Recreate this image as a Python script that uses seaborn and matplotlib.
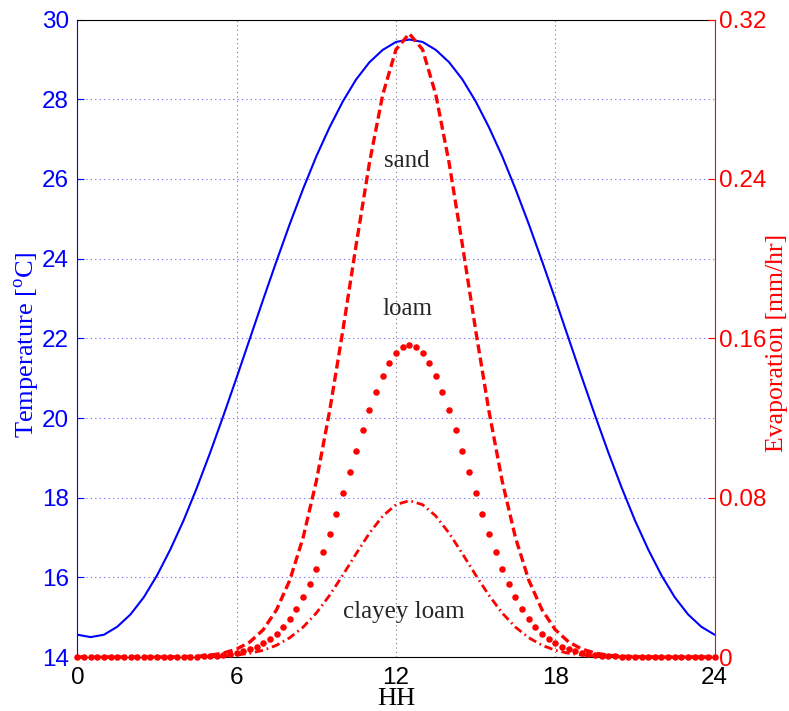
import numpy as np
import matplotlib
matplotlib.use("Agg")
import matplotlib.pyplot as plt
import seaborn as sns

# hour of day, half-hourly and quarter-hourly samples
hours_half = np.arange(0, 24.01, 0.5)
hours_quarter = np.arange(0, 24.01, 0.25)

# air temperature [oC], half-hourly
temperature = [14.56, 14.50, 14.56, 14.76, 15.07, 15.50, 16.05, 16.70, 17.43, 18.25,
               19.13, 20.06, 21.02, 22.00, 22.98, 23.94, 24.87, 25.75, 26.57, 27.30,
               27.95, 28.50, 28.93, 29.24, 29.44, 29.50, 29.44, 29.24, 28.93, 28.50,
               27.95, 27.30, 26.57, 25.75, 24.87, 23.94, 22.98, 22.00, 21.02, 20.06,
               19.13, 18.25, 17.43, 16.70, 16.05, 15.50, 15.07, 14.76, 14.56]

# evaporation [mm/hr], sand, half-hourly
sand = [0, 0, 0, 0, 0, 0, 0, 0,
        0.0002, 0.0004, 0.0009, 0.0020, 0.0040, 0.0076, 0.0137, 0.0237, 0.0386,
        0.0599, 0.0883, 0.1235, 0.1641, 0.2070, 0.2481, 0.2823, 0.3050,
        0.313,
        0.3050, 0.2823, 0.2481, 0.2070, 0.1641, 0.1235, 0.0883, 0.0599,
        0.0386, 0.0237, 0.0137, 0.0076, 0.0040, 0.0020, 0.0009, 0.0004, 0.0002,
        0, 0, 0, 0, 0, 0]

# evaporation [mm/hr], clayey loam, half-hourly
clayey_loam = [0, 0, 0, 0, 0, 0, 0, 0, 0,
               0.0001, 0.0002, 0.0005, 0.0010, 0.0019, 0.0034, 0.0059, 0.0097,
               0.0150, 0.0221, 0.0310, 0.0412, 0.0519, 0.0622, 0.0708, 0.0765,
               0.0785,
               0.0765, 0.0708, 0.0622, 0.0519, 0.0412, 0.0310, 0.0221, 0.0150,
               0.0097, 0.0059, 0.0034, 0.0019, 0.0010, 0.0005, 0.0002, 0.0001,
               0, 0, 0, 0, 0, 0, 0]

# evaporation [mm/hr], loam, quarter-hourly
loam = [0] * 16 + [
    0.0001, 0.0001, 0.0002, 0.0003, 0.0005, 0.0007, 0.0010, 0.0014,
    0.0020, 0.0028, 0.0038, 0.0051, 0.0069, 0.0091, 0.0118, 0.0152,
    0.0193, 0.0242, 0.0300, 0.0366, 0.0441, 0.0526, 0.0618, 0.0716,
    0.0821, 0.0928, 0.1035, 0.1141, 0.1240, 0.1332, 0.1411, 0.1477,
    0.1525, 0.1555,
    0.1565,
    0.1555, 0.1525, 0.1477, 0.1411, 0.1332, 0.1240, 0.1141, 0.1035,
    0.0928, 0.0821, 0.0716, 0.0618, 0.0526, 0.0441, 0.0366, 0.0300,
    0.0242, 0.0193, 0.0152, 0.0118, 0.0091, 0.0069, 0.0051, 0.0038,
    0.0028, 0.0020, 0.0014, 0.0010, 0.0007, 0.0005, 0.0003, 0.0002,
    0.0001, 0.0001] + [0] * 12

x_ticks = [0, 6, 12, 18, 24]
temp_ticks = [14, 16, 18, 20, 22, 24, 26, 28, 30]
evap_ticks = [0, 0.08, 0.16, 0.24, 0.32]
evap_labels = ["0", "0.08", "0.16", "0.24", "0.32"]

sns.set_style("white")
plt.rcParams["font.family"] = ["Liberation Sans", "DejaVu Sans"]
plt.rcParams["mathtext.fontset"] = "custom"
plt.rcParams["mathtext.rm"] = "Liberation Serif"

fig = plt.figure(figsize=(7.89, 7.11), dpi=100)
ax = fig.add_axes([0.0981, 0.0759, 0.8076, 0.8965])

# Temperature
sns.lineplot(x=hours_half, y=temperature, ax=ax, color="blue", linewidth=1.5)
ax.set_xlim(0, 24)
ax.set_ylim(14, 30)
ax.set_xticks(x_ticks)
ax.set_yticks(temp_ticks)
ax.tick_params(axis="x", direction="in", length=5, width=0.8, colors="black",
               labelsize=17.5, pad=7)
ax.tick_params(axis="y", direction="in", length=5, width=0.8, colors="blue",
               labelsize=17.5, pad=6)
ax.grid(axis="y", color="#6666ff", linestyle=(0, (1, 3)), linewidth=0.8)
ax.grid(axis="x", color="#777777", linestyle=(0, (1, 3)), linewidth=0.8)
for side in ["top", "bottom"]:
    ax.spines[side].set_color("black")
    ax.spines[side].set_linewidth(0.8)
ax.spines["left"].set_color("blue")
ax.spines["left"].set_linewidth(0.8)
ax.spines["right"].set_visible(False)

serif = ["Liberation Serif", "DejaVu Serif"]
ax.set_xlabel("HH", family=serif, fontsize=19, color="black")
ax.xaxis.set_label_coords(0.5, -0.049)
ax.set_ylabel(r"Temperature [$^{\mathrm{o}}$C]", family=serif, fontsize=19,
              color="blue")
ax.yaxis.set_label_coords(-0.055, 0.49)

# Evaporation (lines at zero are not clipped, as in the original)
ax2 = ax.twinx()
sns.lineplot(x=hours_half, y=sand, ax=ax2, color="red", linewidth=2.4,
             linestyle=(0, (2.7, 1.3)), clip_on=False)
sns.lineplot(x=hours_half, y=clayey_loam, ax=ax2, color="red", linewidth=2.0,
             linestyle=(0, (3.0, 1.4, 0.6, 1.4)), clip_on=False)
sns.scatterplot(x=hours_quarter, y=loam, ax=ax2, color="red", s=22,
                linewidth=0, zorder=3, clip_on=False)
ax2.set_ylim(0, 0.32)
ax2.set_xlim(0, 24)
ax2.set_yticks(evap_ticks)
ax2.set_yticklabels(evap_labels)
ax2.tick_params(axis="y", direction="in", length=5, width=0.8, colors="red",
                labelsize=17.5, pad=3)
for side in ["top", "bottom", "left"]:
    ax2.spines[side].set_visible(False)
ax2.spines["right"].set_color("red")
ax2.spines["right"].set_linewidth(0.8)
ax2.set_ylabel("Evaporation [mm/hr]", family=serif, fontsize=18.5, color="red",
               rotation=90)
ax2.yaxis.set_label_coords(1.081, 0.493)
ax2.grid(False)

# soil labels
ax.text(12.39, 26.30, "sand", family=serif, fontsize=18, ha="center", va="baseline")
ax.text(12.45, 22.58, "loam", family=serif, fontsize=18, ha="center", va="baseline")
ax.text(12.3, 14.97, "clayey loam", family=serif, fontsize=18, ha="center",
        va="baseline")

fig.savefig("out.png", dpi=100)
